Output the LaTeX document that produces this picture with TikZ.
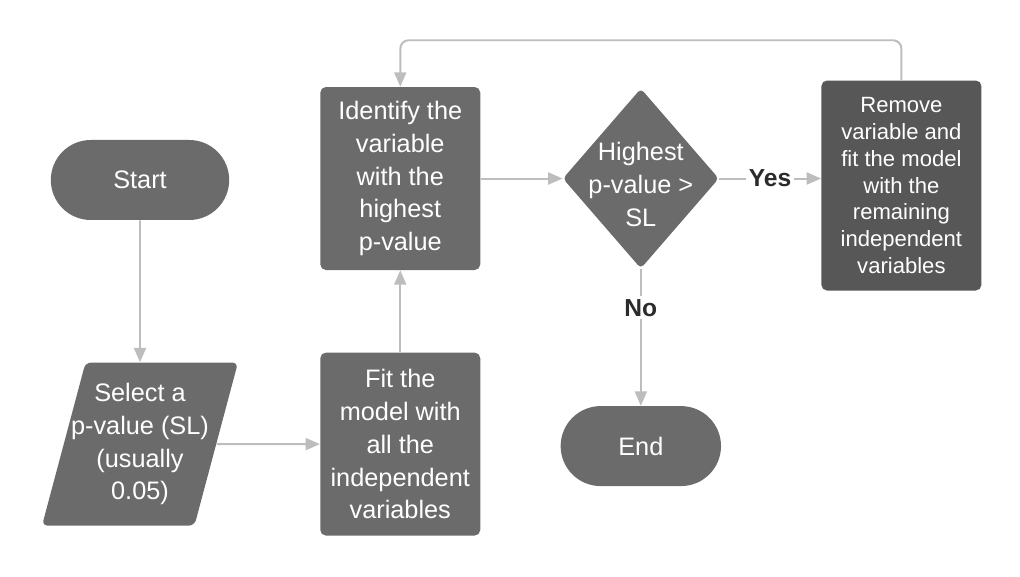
\documentclass[tikz,border=0pt]{standalone}
\usepackage{fontspec}
\setmainfont{Liberation Sans}
\usepackage{tikz}
\usetikzlibrary{positioning,shapes.geometric,shapes.misc,arrows.meta}

\definecolor{boxgray}{HTML}{6B6B6B}
\definecolor{darkbox}{HTML}{575757}
\definecolor{linegray}{HTML}{BDBDBD}
\definecolor{labelgray}{HTML}{2B2B2B}

\begin{document}
\begin{tikzpicture}[
    % Style definitions
    block/.style={fill=boxgray, draw=none, text=white, align=center, inner sep=2pt,
        font=\fontsize{18}{23.4}\selectfont},
    terminal/.style={block, rounded rectangle, minimum width=4.6cm, minimum height=2cm},
    io/.style={block, trapezium, trapezium left angle=75, trapezium right angle=105,
        inner xsep=-0.65cm, minimum height=4.075cm, rounded corners=4pt},
    process/.style={block, rectangle, rounded corners=4pt, minimum width=4cm, minimum height=4.575cm},
    decision/.style={block, diamond, minimum width=3.9cm, minimum height=4.5cm, rounded corners=3pt},
    arrow/.style={-{Triangle[length=0.36cm,width=0.3cm]}, line width=1.4pt, color=linegray},
    answer/.style={font=\fontsize{17.5}{20}\selectfont\bfseries, text=labelgray, fill=white, inner sep=2pt}
]
\useasboundingbox (0,0) rectangle (25.5,14.4);

% Start and input
\node[terminal] (start) at (3.5,9.9) {Start};
\node[io, below=3.55cm of start] (select) {Select a\\p-value (SL)\\(usually\\0.05)};

% Model fitting
\node[process, right=4.5cm of select.center] (fitall) {Fit the\\model with\\all the\\independent\\variables};
\node[process, above=2.05cm of fitall] (identify) {Identify the\\variable\\with the\\highest\\p-value};

% Decision
\node[decision, right=2.05cm of identify] (test) {};
\node[block, fill=none, yshift=-0.15cm] (testtext) at (test.center) {Highest\\p-value >\\SL};

% Outcomes
\node[process, fill=darkbox, minimum height=5.25cm, font=\fontsize{15.7}{19.1}\selectfont,
    right=2.55cm of test, yshift=-0.175cm] (remove) {Remove\\variable and\\fit the model\\with the\\remaining\\independent\\variables};
\node[terminal, minimum width=4.15cm, below=3.425cm of test] (stop) {End};

% Connections
\draw[arrow] (start) -- (select);
\draw[arrow] (select) -- (fitall);
\draw[arrow] (fitall) -- (identify);
\draw[arrow] (identify) -- (test);
\draw[arrow] (test.east) -- node[answer] {Yes} (test.east -| remove.west);
\draw[arrow] (test.south) -- node[answer, pos=0.285] {No} (stop.north);
\draw[arrow, rounded corners=6pt] (remove.north) -- ++(0,1) -| (identify.north);

\end{tikzpicture}
\end{document}
